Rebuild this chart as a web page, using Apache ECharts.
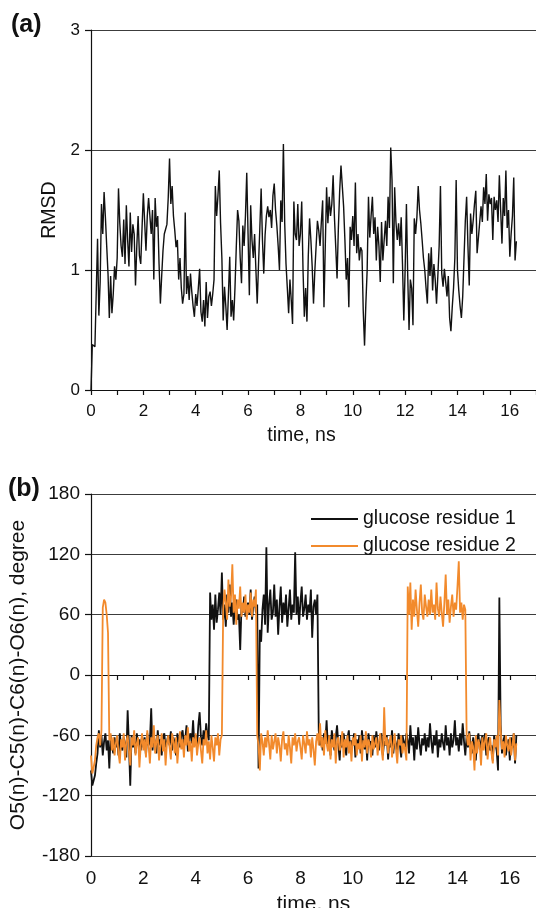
<!DOCTYPE html>
<html>
<head>
<meta charset="utf-8">
<script src="https://cdn.jsdelivr.net/npm/echarts@6/dist/echarts.min.js"></script>
<style>
  html, body { margin: 0; padding: 0; background: #fff; }
  #chart { width: 536px; height: 908px; }
</style>
</head>
<body>
<div id="chart"></div>
<script>
// time step of the sampled trajectories, ns
const step = 0.05

// (a) RMSD, one value every 0.05 ns from 0 to 16.25 ns
const rmsd = [
  0.00, 0.38, 0.37, 0.36, 0.35, 1.26, 0.62, 0.90, 1.55, 1.30, 1.65, 1.44, 1.20, 0.97, 0.60, 0.95, 0.64, 0.80, 1.03, 0.92,
  1.10, 1.68, 1.39, 1.20, 1.11, 1.42, 1.05, 1.54, 1.25, 1.03, 1.48, 1.15, 1.38, 1.30, 0.87, 1.20, 1.45, 1.12, 1.05, 1.35,
  1.64, 1.40, 1.16, 1.45, 1.60, 1.61, 1.30, 1.50, 0.92, 1.60, 1.36, 1.45, 1.05, 0.72, 0.95, 1.16, 1.30, 1.34, 1.38, 1.60,
  1.93, 1.55, 1.70, 1.45, 1.33, 1.19, 1.25, 0.92, 1.10, 0.85, 0.72, 0.80, 1.48, 0.80, 0.95, 0.75, 0.97, 0.82, 0.70, 0.61,
  0.80, 0.70, 0.85, 1.01, 0.65, 0.57, 0.75, 0.53, 0.90, 0.60, 0.78, 0.82, 0.70, 0.80, 0.92, 1.70, 1.45, 1.62, 1.83, 1.39,
  1.10, 0.58, 0.86, 0.70, 0.50, 0.80, 1.11, 0.61, 0.75, 0.58, 0.85, 1.19, 1.50, 1.41, 1.10, 0.89, 1.37, 1.20, 1.45, 1.81,
  1.30, 0.79, 1.54, 1.25, 1.10, 1.30, 1.00, 0.72, 1.05, 1.35, 1.68, 1.25, 0.97, 1.29, 1.45, 1.53, 1.44, 1.50, 1.35, 1.62,
  1.72, 1.50, 1.37, 1.20, 1.00, 1.58, 1.40, 2.05, 1.39, 1.05, 0.85, 0.64, 0.92, 0.75, 0.55, 1.57, 1.30, 1.25, 1.55, 1.20,
  1.30, 1.57, 1.00, 0.61, 0.85, 0.57, 1.11, 1.43, 1.25, 1.03, 0.72, 0.99, 1.20, 1.41, 1.33, 1.20, 1.40, 1.58, 0.69, 1.20,
  1.69, 1.39, 1.61, 1.45, 1.55, 1.79, 1.44, 1.19, 0.93, 1.35, 1.66, 1.87, 1.88, 1.53, 1.25, 0.92, 1.10, 0.69, 1.36, 1.25,
  1.45, 1.20, 1.73, 1.14, 1.30, 1.08, 1.19, 1.16, 0.66, 0.37, 0.72, 1.00, 1.61, 1.27, 1.45, 1.61, 1.30, 1.44, 1.08, 1.36,
  1.20, 0.90, 1.40, 1.08, 1.25, 1.41, 1.20, 1.61, 1.35, 2.02, 1.75, 0.89, 1.69, 1.40, 1.25, 1.39, 1.20, 1.44, 1.05, 0.58,
  1.00, 1.55, 0.95, 0.50, 0.92, 0.85, 0.54, 1.43, 1.30, 1.44, 1.70, 1.50, 1.39, 1.25, 1.10, 1.00, 0.85, 0.72, 1.14, 0.95,
  1.19, 0.83, 1.05, 0.92, 0.72, 0.95, 1.20, 1.70, 0.97, 0.86, 1.01, 0.90, 0.78, 0.95, 0.60, 0.49, 0.69, 0.85, 1.10, 1.75,
  1.00, 0.83, 0.70, 0.60, 0.78, 1.10, 1.41, 1.61, 1.20, 0.87, 1.47, 1.30, 1.41, 1.55, 1.66, 1.14, 1.27, 1.40, 1.53, 1.40,
  1.69, 1.55, 1.80, 1.41, 1.63, 1.55, 1.60, 1.25, 1.61, 1.50, 1.58, 1.40, 1.79, 1.50, 1.22, 1.60, 1.45, 1.83, 1.35, 1.50,
  1.11, 1.30, 1.45, 1.77, 1.08, 1.24
]

// (b) O5-C5-C6-O6 dihedral, degree, same time grid
const residue1 = [
  -95, -110, -105, -100, -88, -78, -55, -72, -60, -80, -66, -58, -75, -65, -93, -60, -70, -78, -62, -72,
  -65, -80, -58, -70, -75, -62, -68, -82, -35, -70, -110, -60, -72, -66, -78, -58, -70, -64, -75, -60,
  -72, -62, -80, -58, -70, -66, -33, -75, -60, -68, -78, -55, -70, -64, -80, -62, -58, -72, -66, -60,
  -70, -56, -75, -62, -68, -80, -58, -66, -72, -60, -55, -70, -64, -50, -76, -62, -58, -68, -45, -70,
  -60, -72, -50, -37, -62, -70, -55, -66, -48, -60, -65, 82, 55, 70, 45, 80, 52, 65, 82, 60,
  102, 55, 70, 48, 80, 62, 90, 58, 72, 50, 68, 75, 55, 60, 25, 70, 62, 78, 58, 66,
  72, 60, 85, 55, 68, 78, 62, 70, -93, 45, 33, 65, 80, 50, 127, 42, 70, 85, 55, 62,
  90, 58, 75, 40, 68, 88, 52, 72, 60, 80, 48, 66, 85, 55, 70, 62, 122, 60, 78, 50,
  72, 88, 58, 66, 80, 55, 70, 62, 85, 37, 68, 75, 60, 80, -55, -70, -62, -75, -58, -68,
  -45, -72, -60, -80, -55, -66, -75, -62, -50, -70, -85, -60, -72, -58, -68, -80, -62, -55, -75, -65,
  -70, -58, -82, -64, -72, -60, -78, -55, -68, -74, -62, -85, -58, -70, -66, -80, -60, -72, -56, -68,
  -75, -62, -58, -80, -66, -70, -60, -84, -64, -72, -55, -78, -62, -68, -75, -58, -70, -82, -60, -66,
  -72, -58, -65, -78, -50, -70, -62, -85, -60, -74, -52, -68, -80, -63, -70, -58, -76, -62, -72, -48,
  -66, -78, -60, -70, -55, -82, -64, -72, -58, -68, -75, -50, -70, -62, -80, -58, -72, -65, -45, -70,
  -62, -76, -58, -70, -48, -66, -80, -60, -72, -56, -68, -78, -62, -70, -85, -64, -58, -74, -66, -60,
  -72, -58, -80, -66, -62, -75, -70, -85, -60, -68, -76, -95, 77, -50, -78, -66, -60, -80, -70, -64,
  -85, -62, -72, -58, -88, -60
]

const residue2 = [
  -80, -98, -92, -85, -70, -62, -58, -70, -55, 67, 75, 72, 60, 42, -65, -58, -75, -62, -80, -68,
  -60, -78, -88, -64, -72, -58, -85, -66, -60, -75, -90, -62, -70, -55, -80, -68, -62, -92, -70, -58,
  -75, -64, -82, -55, -70, -88, -62, -72, -50, -78, -66, -60, -85, -70, -58, -76, -64, -90, -68, -60,
  -72, -84, -58, -66, -78, -62, -88, -70, -56, -74, -64, -82, -60, -70, -52, -76, -66, -86, -62, -72,
  -58, -80, -68, -62, -75, -88, -64, -70, -55, -78, -66, -84, -60, -72, -86, -62, -70, -58, -80, -64,
  -60, 65, 85, 72, 55, 95, 68, 78, 110, 62, 80, 50, 75, 66, 88, 58, 72, 62, 80, 55,
  70, 62, 82, 58, 75, 68, 85, -60, -70, -95, -58, -66, -80, -62, -72, -55, -68, -84, -60, -74,
  -66, -58, -78, -62, -70, -86, -64, -56, -74, -68, -80, -60, -72, -88, -62, -70, -58, -76, -66, -62,
  -72, -84, -60, -68, -78, -56, -70, -64, -82, -62, -74, -90, -66, -58, -70, -48, -72, -62, -80, -55,
  -68, -76, -60, -84, -64, -72, -58, -88, -66, -62, -75, -70, -56, -82, -64, -72, -60, -78, -66, -86,
  -62, -70, -58, -80, -68, -74, -60, -86, -65, -72, -56, -78, -64, -70, -82, -60, -74, -68, -62, -80,
  -66, -58, -74, -85, -32, -70, -62, -78, -66, -60, -82, -70, -58, -74, -88, -64, -70, -60, -78, -68,
  -75, -85, 88, 60, 92, 45, 75, 58, 85, 65, 48, 72, 90, 62, 55, 80, 68, 58, 75, 60,
  85, 62, 70, 55, 92, 66, 58, 78, 62, 48, 72, 100, 60, 75, 52, 68, 80, 58, 72, 65,
  88, 113, 62, 72, 55, 70, 65, -60, -70, -58, -85, -66, -72, -95, -60, -78, -64, -70, -90, -62,
  -75, -66, -58, -84, -70, -62, -78, -88, -64, -72, -60, -80, -25, -55, -74, -66, -82, -60, -70, -76,
  -62, -80, -70, -58, -85, -68
]

const seriesNames = ['glucose residue 1', 'glucose residue 2']
const rmsdTicks = [0, 1, 2, 3]
const angleTicks = [-180, -120, -60, 0, 60, 120, 180]

const toPairs = arr => arr.map((v, i) => [+(i * step).toFixed(2), v])

const font = 'Liberation Sans, Arial, Helvetica, sans-serif'
const ink = '#111'
const gridColor = '#3c3c3c'
const orange = '#f28a2c'

function timeAxis(gridIndex, labelSize, labelMargin, nameSize, nameGap, namePad) {
  return {
    type: 'value',
    gridIndex,
    min: 0,
    max: 17,
    interval: 1,
    name: 'time, ns',
    nameLocation: 'middle',
    nameGap,
    nameTextStyle: { color: ink, fontSize: nameSize, fontFamily: font, padding: namePad },
    axisLine: { lineStyle: { color: ink, width: 1.2 } },
    axisTick: { inside: false, length: 5, lineStyle: { color: ink, width: 1.2 } },
    axisLabel: {
      color: ink, fontSize: labelSize, fontFamily: font, margin: labelMargin,
      formatter: v => (v % 2 === 0 && v <= 16 ? String(v) : ''),
    },
    splitLine: { show: false },
  }
}

const chart = echarts.init(document.getElementById('chart'), null, { renderer: 'canvas' })

chart.setOption({
  backgroundColor: '#fff',
  animation: false,
  grid: [
    { left: 91, right: 0, top: 30, height: 360, outerBoundsMode: 'none' },
    { left: 91, right: 0, top: 494, height: 362, outerBoundsMode: 'none' },
  ],
  xAxis: [
    timeAxis(0, 17, 13, 19.5, 36, [0, 24, 0, 0]),
    timeAxis(1, 19, 13, 21, 38, 0),
  ],
  yAxis: [
    {
      type: 'value',
      gridIndex: 0,
      min: rmsdTicks[0],
      max: rmsdTicks[rmsdTicks.length - 1],
      interval: 1,
      name: 'RMSD',
      nameLocation: 'middle',
      nameGap: 30,
      nameTextStyle: { color: ink, fontSize: 19.5, fontFamily: font },
      axisLine: { show: true, lineStyle: { color: ink, width: 1.2 } },
      axisTick: { show: true, length: 6, lineStyle: { color: ink, width: 1.2 } },
      axisLabel: { color: ink, fontSize: 17, fontFamily: font, margin: 11 },
      splitLine: { show: true, lineStyle: { color: gridColor, width: 1 } },
    },
    {
      type: 'value',
      gridIndex: 1,
      min: angleTicks[0],
      max: angleTicks[angleTicks.length - 1],
      interval: 60,
      name: 'O5(n)-C5(n)-C6(n)-O6(n), degree',
      nameLocation: 'middle',
      nameGap: 62,
      nameTextStyle: { color: ink, fontSize: 21, fontFamily: font },
      axisLine: { show: true, lineStyle: { color: ink, width: 1.2 } },
      axisTick: { show: true, length: 6, lineStyle: { color: ink, width: 1.2 } },
      axisLabel: { color: ink, fontSize: 19, fontFamily: font, margin: 11 },
      splitLine: { show: true, lineStyle: { color: gridColor, width: 1 } },
    },
  ],
  legend: {
    data: seriesNames,
    left: 306,
    top: 503,
    orient: 'vertical',
    icon: 'rect',
    itemWidth: 47,
    itemHeight: 2,
    itemGap: 5,
    textStyle: { color: ink, fontSize: 19.5, fontFamily: font, lineHeight: 22 },
  },
  graphic: [
    { type: 'text', left: 11, top: 13, style: { text: '(a)', fontSize: 25, fontWeight: 'bold', fontFamily: font, fill: ink } },
    { type: 'text', left: 8, top: 477, style: { text: '(b)', fontSize: 25, fontWeight: 'bold', fontFamily: font, fill: ink } },
  ],
  series: [
    {
      name: 'RMSD',
      type: 'line',
      xAxisIndex: 0,
      yAxisIndex: 0,
      data: toPairs(rmsd),
      symbol: 'none',
      lineStyle: { color: ink, width: 1.4 },
      z: 3,
    },
    {
      name: seriesNames[0],
      type: 'line',
      xAxisIndex: 1,
      yAxisIndex: 1,
      data: toPairs(residue1),
      symbol: 'none',
      lineStyle: { color: ink, width: 1.8 },
      itemStyle: { color: ink },
      z: 3,
    },
    {
      name: seriesNames[1],
      type: 'line',
      xAxisIndex: 1,
      yAxisIndex: 1,
      data: toPairs(residue2),
      symbol: 'none',
      lineStyle: { color: orange, width: 1.8 },
      itemStyle: { color: orange },
      z: 4,
    },
  ],
})
</script>
</body>
</html>
